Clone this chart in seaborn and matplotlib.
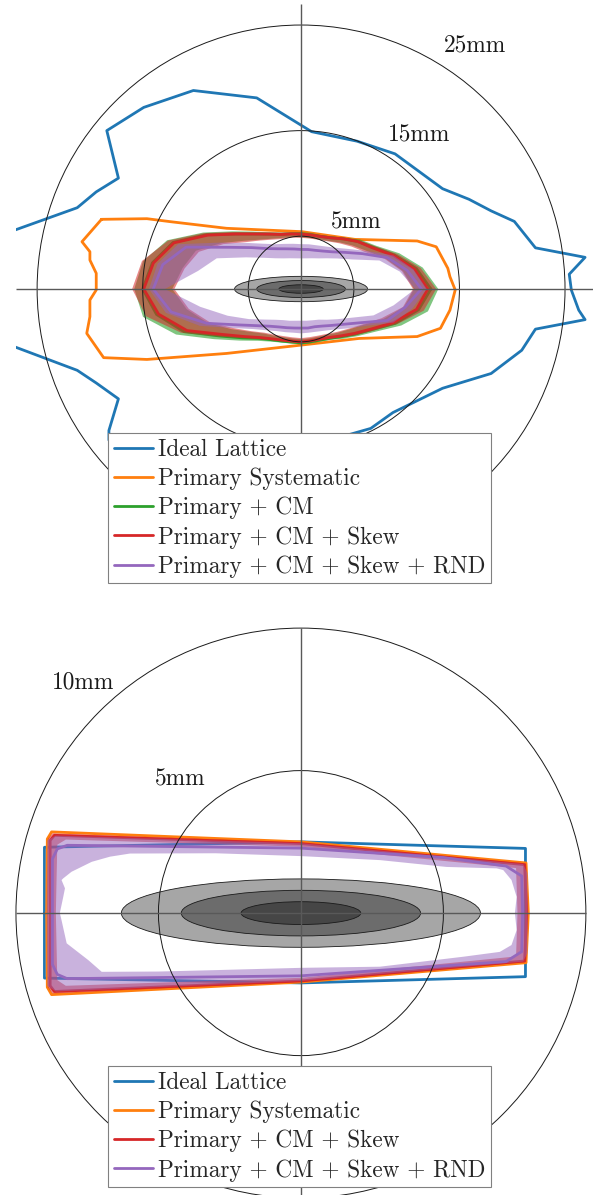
import numpy as np
import matplotlib
matplotlib.use('Agg')
import matplotlib.pyplot as plt
from matplotlib.patches import Circle, Ellipse
import seaborn as sns

# Beam size (mm), drawn at 1, 2, 3 sigma
sigma_x, sigma_y = 2.1, 0.4
n_sigma = [1, 2, 3]

# Reference circles (mm) and their labels
top_radii = [5, 15, 25]
top_labels = ['5mm', '15mm', '25mm']
top_label_x = [5.2, 11.2, 16.5]
top_label_y = [6.3, 14.6, 23.1]
bottom_radii = [5, 10]
bottom_labels = ['5mm', '10mm']
bottom_label_x = [-4.23, -7.66]
bottom_label_y = [4.68, 8.1]

labels = ['Ideal Lattice', 'Primary Systematic', 'Primary + CM',
          'Primary + CM + Skew', 'Primary + CM + Skew + RND']
colors = ['#1f77b4', '#ff7f0e', '#2ca02c', '#d62728', '#9467bd']

# ---- top panel: dynamic aperture (mm) ----
top_ideal_x = [-27.06, -21.2, -19.4, -17.3, -18.4, -14.9, -10.2, -4.2, 1.0, 5.3, 8.9, 13.4,
               15.9, 18.0, 20.2, 22.2, 26.9, 25.4, 25.6, 26.3, 26.9, 22.2, 20.9, 18.0, 13.4,
               8.7, 6.6, 3.8, 1.0, -4.2, -10.2, -14.9, -18.2, -18.2, -17.3, -19.4, -21.2, -27.06]
top_ideal_y = [5.6, 7.7, 9.2, 10.5, 15.0, 17.2, 18.8, 18.1, 14.9, 14.0, 12.8, 9.5,
               8.5, 7.4, 6.4, 3.9, 3.0, 1.4, -0.1, -2.0, -2.9, -3.8, -5.8, -8.0, -9.4,
               -11.7, -13.2, -14.0, -14.9, -18.1, -18.8, -17.2, -14.3, -13.4, -10.4, -8.9, -7.7, -5.5]

top_sys_x = [-18.9, -14.6, -12.4, -7.06, 0.1, 5.1, 11.0, 12.8, 13.9, 14.1, 14.6, 14.1, 13.2,
             11.0, 5.5, 0.1, -7.06, -14.6, -18.7, -20.3, -20.0, -20.0, -19.4, -19.4, -20.0,
             -20.0, -20.75]
top_sys_y = [6.6, 6.66, 6.38, 5.75, 5.43, 4.7, 4.55, 4.0, 1.96, 1.17, -0.09, -2.0, -3.72,
             -4.5, -4.68, -5.3, -6.1, -6.67, -6.5, -4.2, -2.62, -1.04, -0.09, 1.49, 2.74,
             3.53, 4.48]

# radius (mm) against angle (deg) for the seeded cases: low / mean / high
top_angle = [0, 10, 20, 30, 40, 50, 60, 70, 80, 90, 100, 110, 120, 130, 140, 150, 160, 170,
             180, 190, 200, 210, 220, 230, 240, 250, 260, 270, 280, 290, 300, 310, 320, 330,
             340, 350]
top_cm_lo = [10.7, 9.8, 8.5, 7.2, 6.4, 5.75, 5.25, 5.0, 4.9, 4.9, 5.0, 5.15, 5.5, 6.1, 7.1,
             8.7, 10.6, 11.4, 12.2, 11.0, 9.4, 7.6, 6.3, 5.5, 5.1, 4.85, 4.75, 4.75, 4.74,
             4.8, 5.0, 5.4, 5.95, 6.8, 8.3, 9.9]
top_cm_mid = [12.3, 11.1, 9.4, 7.9, 7.0, 6.2, 5.6, 5.3, 5.2, 5.2, 5.3, 5.5, 6.0, 6.8, 8.1,
              10.3, 12.9, 14.3, 15.0, 13.9, 11.8, 8.9, 7.2, 6.1, 5.55, 5.25, 5.1, 5.1, 5.08,
              5.15, 5.4, 5.9, 6.65, 7.7, 9.5, 11.3]
top_cm_hi = [13.0, 11.7, 9.9, 8.2, 7.3, 6.35, 5.75, 5.45, 5.4, 5.4, 5.45, 5.7, 6.2, 7.1, 8.5,
             10.7, 13.5, 15.2, 15.8, 15.2, 12.6, 9.5, 7.6, 6.4, 5.75, 5.4, 5.25, 5.25, 5.22,
             5.3, 5.55, 6.15, 6.95, 8.1, 10.1, 12.2]
top_skew_lo = [10.6, 9.7, 8.4, 7.0, 6.25, 5.65, 5.2, 4.95, 4.85, 4.85, 4.95, 5.05, 5.4, 6.0,
               6.9, 8.5, 10.3, 11.2, 12.0, 10.8, 9.2, 7.4, 6.2, 5.4, 5.0, 4.75, 4.65, 4.65,
               4.63, 4.7, 4.9, 5.3, 5.85, 6.7, 8.1, 9.8]
top_skew_mid = [12.0, 10.9, 9.3, 7.8, 7.0, 6.2, 5.6, 5.3, 5.2, 5.2, 5.3, 5.5, 6.0, 6.8, 8.1,
                10.2, 12.8, 14.2, 14.9, 13.7, 11.5, 8.6, 7.0, 6.0, 5.45, 5.15, 5.0, 5.0, 4.98,
                5.05, 5.3, 5.8, 6.55, 7.6, 9.3, 11.1]
top_skew_hi = [12.8, 11.5, 9.7, 8.1, 7.2, 6.35, 5.75, 5.45, 5.35, 5.35, 5.45, 5.7, 6.2, 7.0,
               8.4, 10.6, 13.4, 15.3, 16.0, 14.9, 12.1, 9.0, 7.25, 6.2, 5.6, 5.3, 5.15, 5.15,
               5.12, 5.2, 5.45, 6.0, 6.8, 7.9, 9.7, 11.8]
top_rnd_lo = [10.8, 9.5, 7.9, 5.6, 4.5, 3.8, 3.35, 3.1, 2.95, 2.9, 2.95, 3.1, 3.35, 3.8, 4.6,
              6.0, 8.5, 9.9, 12.9, 9.7, 7.4, 5.7, 4.5, 3.8, 3.4, 3.2, 3.05, 3.0, 3.05, 3.15,
              3.35, 3.8, 4.45, 5.45, 7.3, 8.9]
top_rnd_mid = [11.4, 10.2, 8.7, 6.7, 5.4, 4.6, 4.15, 3.9, 3.8, 3.75, 3.85, 4.05, 4.4, 5.0, 6.1,
               7.9, 11.6, 13.3, 14.0, 12.5, 9.5, 6.8, 5.4, 4.6, 4.15, 3.9, 3.75, 3.7, 3.75,
               3.8, 4.05, 4.5, 5.2, 6.4, 8.7, 10.0]
top_rnd_hi = [11.9, 10.8, 9.3, 7.2, 5.9, 5.1, 4.65, 4.4, 4.3, 4.25, 4.35, 4.55, 4.9, 5.6, 6.8,
              8.8, 12.4, 13.8, 14.4, 13.0, 10.2, 7.4, 5.9, 5.1, 4.6, 4.35, 4.2, 4.2, 4.2, 4.3,
              4.55, 5.0, 5.8, 7.0, 9.3, 10.7]

# ---- bottom panel: dynamic aperture (mm) ----
bot_ideal_x = [-9.0, -9.0, 0.0, 7.88, 7.88, 0.0, -9.0]
bot_ideal_y = [0.0, 2.31, 2.5, 2.27, -2.23, -2.45, -2.28]
bot_sys_x = [-8.92, -8.9, -8.75, 0.0, 7.9, 7.98, 7.9, 0.0, -8.75, -8.9]
bot_sys_y = [0.0, 2.6, 2.85, 2.5, 1.76, 0.0, -1.74, -2.42, -2.86, -2.6]

bot_skew_x = [-8.8, -8.8, -8.65, 0.0, 7.85, 7.92, 7.85, 0.0, -8.65, -8.8]
bot_skew_y = [0.0, 2.55, 2.73, 2.44, 1.7, 0.0, -1.68, -2.38, -2.75, -2.55]
bot_skew_hi_x = [-8.9, -8.88, -8.72, 0.0, 7.9, 7.97, 7.9, 0.0, -8.72, -8.88]
bot_skew_hi_y = [0.0, 2.6, 2.8, 2.47, 1.74, 0.0, -1.72, -2.41, -2.82, -2.6]
bot_skew_lo_x = [-8.6, -8.55, -8.25, 0.0, 7.55, 7.6, 7.55, 0.0, -8.25, -8.55]
bot_skew_lo_y = [0.0, 2.4, 2.58, 2.33, 1.58, 0.0, -1.52, -2.27, -2.55, -2.35]

bot_rnd_x = [-8.72, -8.72, -8.55, -8.2, 0.0, 5.0, 7.2, 7.75, 7.78, 7.75, 7.2, 0.0, -8.2,
             -8.55, -8.72]
bot_rnd_y = [0.0, 1.9, 2.25, 2.38, 2.28, 1.95, 1.65, 1.3, 0.0, -1.35, -1.7, -2.2, -2.3,
             -2.15, -1.8]
bot_rnd_hi_x = [-8.92, -8.9, -8.6, 0.0, 7.8, 7.95, 7.95, 7.8, 0.0, -8.6, -8.9]
bot_rnd_hi_y = [0.0, 2.55, 2.72, 2.45, 1.72, 1.4, -1.4, -1.7, -2.38, -2.75, -2.55]
bot_rnd_lo_x = [-8.46, -8.34, -8.28, -8.4, -8.34, -8.05, -7.34, -6.7, -6.0, -3.0, 0.0, 2.77,
                5.11, 6.87, 7.1, 7.39, 7.57, 7.51, 7.57, 7.39, 6.98, 5.7, 2.77, 0.0, -3.0,
                -5.0, -6.99, -7.46, -8.22, -8.4]
bot_rnd_lo_y = [0.0, 0.57, 0.87, 1.16, 1.22, 1.45, 1.8, 1.98, 2.09, 2.1, 2.0, 1.86, 1.62,
                1.57, 1.51, 1.16, 0.57, 0.0, -0.6, -1.12, -1.36, -1.53, -1.88, -1.92, -2.0,
                -2.05, -2.06, -1.65, -1.06, -0.25]

# Styling
sns.set_theme(style='white')
plt.rcParams['font.family'] = ['cmr10', 'DejaVu Serif']
plt.rcParams['mathtext.fontset'] = 'cm'
plt.rcParams['axes.unicode_minus'] = False
FS = 16.8
W, H = 593, 1195


def polar(angle, r):
    t = np.deg2rad(angle)
    return np.asarray(r) * np.cos(t), np.asarray(r) * np.sin(t)


def closed(x, y):
    x, y = np.asarray(x, float), np.asarray(y, float)
    return np.append(x, x[0]), np.append(y, y[0])


def line(ax, x, y, color, label, z, closed_curve=True):
    if closed_curve:
        x, y = closed(x, y)
    sns.lineplot(x=x, y=y, sort=False, estimator=None, color=color, linewidth=2,
                 ax=ax, label=label, zorder=z)
    return ax.lines[-1]


def band(ax, xo, yo, xi, yi, color, z, alpha=0.5):
    xo, yo = closed(xo, yo)
    xi, yi = closed(xi, yi)
    ax.fill(np.r_[xo, xi[::-1]], np.r_[yo, yi[::-1]], color=color, alpha=alpha, lw=0, zorder=z)


def guides(ax, radii, ext_x, ext_y):
    for r in radii:
        ax.add_patch(Circle((0, 0), r, fill=False, ec='k', lw=0.7, zorder=8))
    ax.hlines(0, ext_x[0], ext_x[1], color='0.35', lw=1.0, zorder=8)
    ax.vlines(0, ext_y[0], ext_y[1], color='0.35', lw=1.0, zorder=8)
    for n in n_sigma[::-1]:
        ax.add_patch(Ellipse((0, 0), 2 * n * sigma_x, 2 * n * sigma_y,
                             fc=(0, 0, 0, 0.35), ec='k', lw=0.6, zorder=7))


def legend(ax, handles, names, top_px):
    leg = ax.legend(handles, names, loc='upper left', bbox_to_anchor=(108 / W, 1 - top_px / H),
                    bbox_transform=fig.transFigure, fontsize=FS, frameon=True, fancybox=False,
                    framealpha=1, edgecolor='0.5', borderpad=0.24, handlelength=1.7,
                    handletextpad=0.2, labelspacing=0.29, borderaxespad=0)
    leg.get_frame().set_linewidth(0.8)
    leg.set_zorder(20)


fig = plt.figure(figsize=(W / 100, H / 100), dpi=100)

# ---- top panel ----
ax1 = fig.add_axes([16 / W, 1 - 600 / H, 577 / W, 600 / H])
ax1.set_xlim(-27.0, 27.65)
ax1.set_ylim(-29.45, 27.37)
ax1.axis('off')

h = []
h.append(line(ax1, top_ideal_x, top_ideal_y, colors[0], labels[0], 2, closed_curve=False))
h.append(line(ax1, top_sys_x, top_sys_y, colors[1], labels[1], 2.1))
band(ax1, *polar(top_angle, top_cm_hi), *polar(top_angle, top_cm_lo), colors[2], 3, 0.6)
h.append(line(ax1, *polar(top_angle, top_cm_mid), colors[2], labels[2], 3.1))
band(ax1, *polar(top_angle, top_skew_hi), *polar(top_angle, top_skew_lo), colors[3], 4, 0.55)
h.append(line(ax1, *polar(top_angle, top_skew_mid), colors[3], labels[3], 4.1))
band(ax1, *polar(top_angle, top_rnd_hi), *polar(top_angle, top_rnd_lo), colors[4], 5, 0.5)
h.append(line(ax1, *polar(top_angle, top_rnd_mid), colors[4], labels[4], 5.1))
guides(ax1, top_radii, (-27, 27.65), (-27, 27))
for t, x, y in zip(top_labels, top_label_x, top_label_y):
    ax1.text(x, y, t, ha='center', va='center', fontsize=FS, color='k', zorder=9)
legend(ax1, h, labels, 433)

# ---- bottom panel ----
ax2 = fig.add_axes([0, 0, 1, 590 / H])
ax2.set_xlim(-10.56, 10.25)
ax2.set_ylim(-9.89, 10.81)
ax2.axis('off')

h2 = []
h2.append(line(ax2, bot_ideal_x, bot_ideal_y, colors[0], labels[0], 2))
h2.append(line(ax2, bot_sys_x, bot_sys_y, colors[1], labels[1], 2.1))
band(ax2, bot_skew_hi_x, bot_skew_hi_y, bot_skew_lo_x, bot_skew_lo_y, colors[3], 4, 0.55)
h2.append(line(ax2, bot_skew_x, bot_skew_y, colors[3], labels[3], 4.1))
band(ax2, bot_rnd_hi_x, bot_rnd_hi_y, bot_rnd_lo_x, bot_rnd_lo_y, colors[4], 5, 0.5)
h2.append(line(ax2, bot_rnd_x, bot_rnd_y, colors[4], labels[4], 5.1))
guides(ax2, bottom_radii, (-10, 10), (-10, 10))
for t, x, y in zip(bottom_labels, bottom_label_x, bottom_label_y):
    ax2.text(x, y, t, ha='center', va='center', fontsize=FS, color='k', zorder=9)
legend(ax2, h2, [labels[0], labels[1], labels[3], labels[4]], 1066)

fig.savefig('out.png', dpi=100)
